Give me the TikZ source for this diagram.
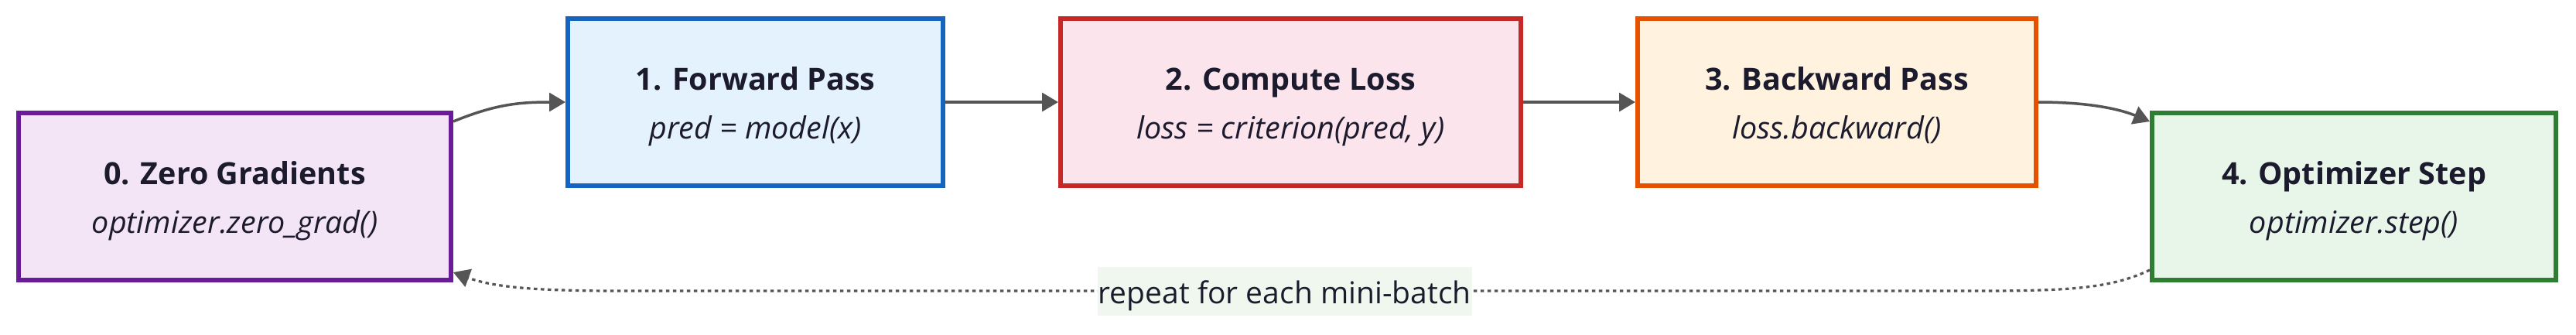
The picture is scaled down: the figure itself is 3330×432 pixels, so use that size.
\documentclass[tikz,border=0pt]{standalone}
\usepackage{fontspec}
\setmainfont{Open Sans}
\usetikzlibrary{arrows.meta,calc}
\definecolor{txt}{HTML}{1C1B2E}
\definecolor{arr}{HTML}{555555}
\definecolor{pB}{HTML}{6A1B9A}\definecolor{pF}{HTML}{F3E5F5}
\definecolor{bB}{HTML}{1565C0}\definecolor{bF}{HTML}{E3F2FD}
\definecolor{rB}{HTML}{C62828}\definecolor{rF}{HTML}{FCE4EC}
\definecolor{oB}{HTML}{E65100}\definecolor{oF}{HTML}{FFF3E0}
\definecolor{gB}{HTML}{2E7D32}\definecolor{gF}{HTML}{E8F5E9}
\definecolor{lblF}{HTML}{F0F7EE}
\newcommand{\stepbody}[2]{\rule{0pt}{42pt}\textbf{#1}\\\textit{#2}\rule[-10pt]{0pt}{0pt}}
\tikzset{
  stepbox/.style={draw, line width=6pt, minimum height=216pt, inner sep=0pt,
    align=center, text=txt, font=\fontsize{39.5}{63}\selectfont},
  flow/.style={draw=arr, line width=3.5pt, -{Triangle[length=21pt,width=24pt]}},
  loopback/.style={draw=arr, line width=3.2pt, dash pattern=on 4.5pt off 4.5pt,
    -{Triangle[length=21pt,width=24pt]}},
  lbl/.style={fill=lblF, text=txt, inner xsep=1pt, inner ysep=0pt,
    text height=48pt, text depth=15pt, font=\fontsize{39}{46}\selectfont}
}
\begin{document}
\begin{tikzpicture}[x=1pt,y=-1pt]
\useasboundingbox (0,0) rectangle (3330,432);
\node[stepbox, draw=pB, fill=pF, minimum width=559pt] (n0) at (303.5,254)
  {\stepbody{0. Zero Gradients}{optimizer.zero\_grad()}};
\node[stepbox, draw=bB, fill=bF, minimum width=485pt] (n1) at (976.5,132)
  {\stepbody{1. Forward Pass}{pred = model(x)}};
\node[stepbox, draw=rB, fill=rF, minimum width=595pt] (n2) at (1668.5,132)
  {\stepbody{2. Compute Loss}{loss = criterion(pred, y)}};
\node[stepbox, draw=oB, fill=oF, minimum width=515pt] (n3) at (2374.5,132)
  {\stepbody{3. Backward Pass}{loss.backward()}};
\node[stepbox, draw=gB, fill=gF, minimum width=522pt] (n4) at (3043,254)
  {\stepbody{4. Optimizer Step}{optimizer.step()}};

\draw[flow] ($(n0.north east)+(0,14)$) .. controls (640,135) and (670,132) .. (n1.west);
\draw[flow] (n1.east) -- (n2.west);
\draw[flow] (n2.east) -- (n3.west);
\draw[flow] (n3.east) .. controls (2700,132) and (2740,141) .. ($(n4.north west)+(0,14)$);
\draw[loopback] ($(n4.south west)+(0,-16)$) .. controls (2730,372) and (2680,376) .. (2560,376)
  -- node[lbl, pos=0.511] (rep) {repeat for each mini-batch} (800,376)
  .. controls (700,376) and (640,372) .. ($(n0.south east)+(0,-13)$);
\end{tikzpicture}
\end{document}
